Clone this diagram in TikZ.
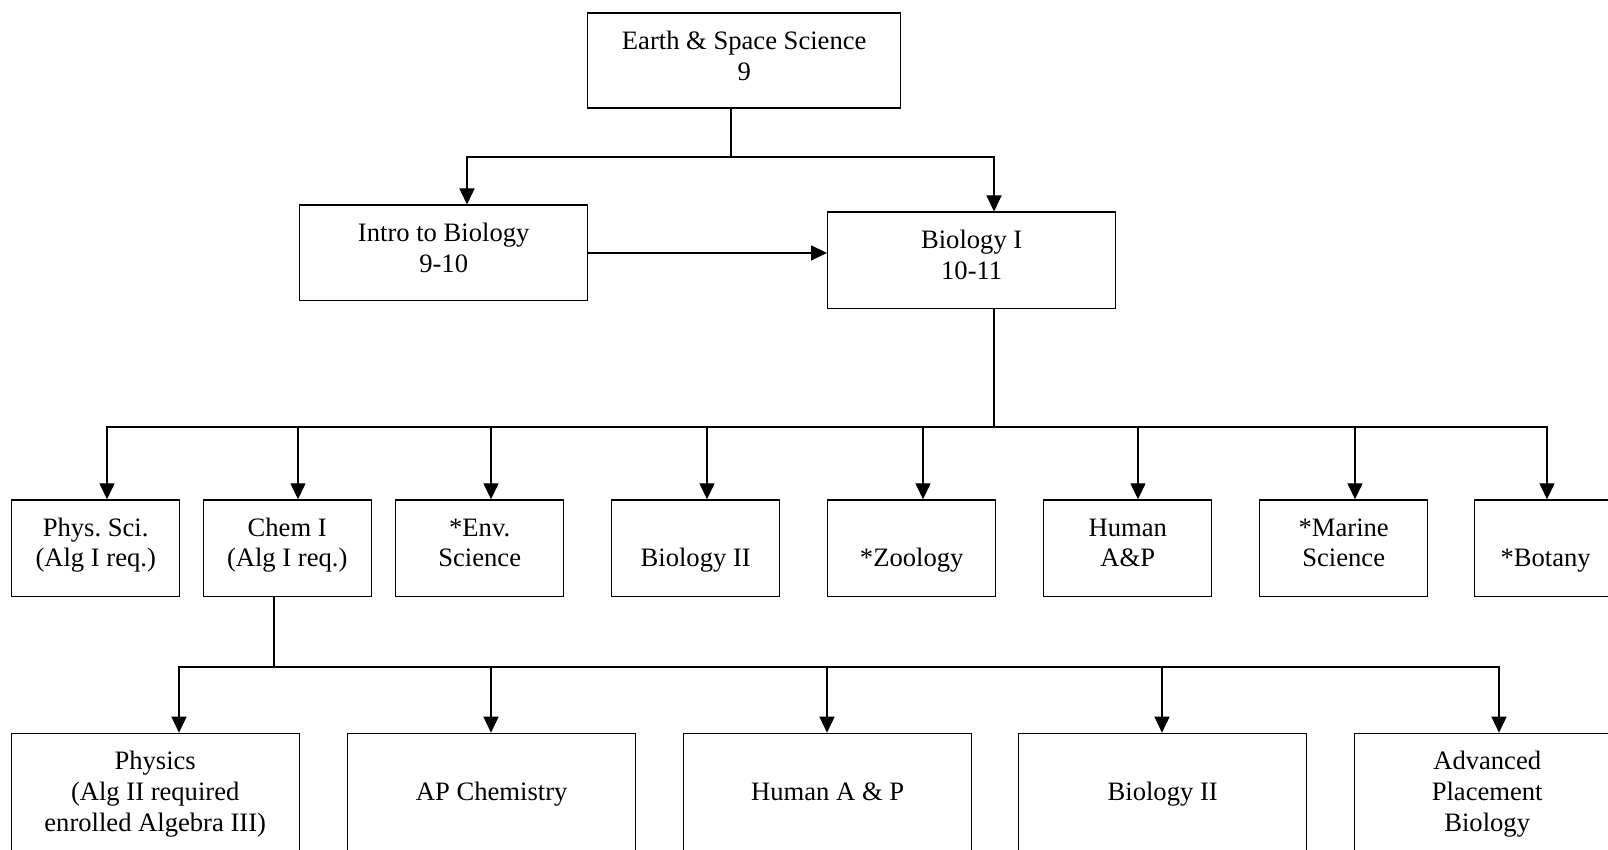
\documentclass[tikz,border=0pt]{standalone}
\usepackage{fontspec}
\setmainfont{Liberation Serif}
\usetikzlibrary{arrows.meta}
\begin{document}
\begin{tikzpicture}[x=0.5pt,y=-0.5pt,
  line width=0.7pt,
  box/.style={draw, line width=0.7pt, inner sep=0pt, align=flush center, anchor=north west,
    text height=18pt, font=\fontsize{13.3pt}{15.5pt}\selectfont\frenchspacing},
  midbox/.style={box, text width=84pt, text depth=30.25pt},
  midone/.style={midbox, text height=33.5pt, text depth=14.75pt},
  lowbox/.style={box, text width=144pt, text depth=46pt},
  lowone/.style={lowbox, text height=33.5pt, text depth=30.5pt},
  arr/.style={-{Triangle[length=8pt,width=7.5pt]}},
]
\useasboundingbox (0,0) rectangle (1608,850);
\clip (0,0) rectangle (1608,850);

% top levels
\node[box, text width=156.5pt, text depth=29.5pt] (earth) at (587,12.5) {Earth \& Space Science\\9};
\node[box, text width=144pt, text depth=29.75pt] (intro) at (299,204.5) {Intro to Biology\\9-10};
\node[box, text width=144pt, text depth=30.25pt] (bio1) at (827,211.5) {Biology I\\10-11};

% middle row
\node[midbox] (phys) at (11,499.3) {Phys. Sci.\\(Alg I req.)};
\node[midbox] (chem) at (202.5,499.3) {Chem I\\(Alg I req.)};
\node[midbox] (env) at (395,499.3) {*Env.\\Science};
\node[midone] (bio2a) at (611,499.3) {Biology II};
\node[midone] (zoo) at (827,499.3) {*Zoology};
\node[midbox] (hap) at (1043,499.3) {Human\\A\&P};
\node[midbox] (marine) at (1259,499.3) {*Marine\\Science};
\node[midone, text width=71pt] (botany) at (1474,499.3) {*Botany};

% bottom row
\node[lowbox] (physics) at (10.5,732.7) {Physics\\(Alg II required\\enrolled Algebra III)};
\node[lowone] (apchem) at (347,732.7) {AP Chemistry};
\node[lowone] (hap2) at (683,732.7) {Human A \& P};
\node[lowone] (bio2b) at (1018,732.7) {Biology II};
\node[lowbox, text width=132.5pt] (apbio) at (1354,732.7) {Advanced\\Placement\\Biology};

% connectors level 1
\coordinate (j0) at (731,157);
\coordinate (xI) at (467,157);
\coordinate (xB) at (994,157);
\draw (earth.south -| j0) -- (j0);
\draw[arr] (j0) -| (xI |- intro.north);
\draw[arr] (j0) -| (xB |- bio1.north);
\draw[arr] (intro.east) -- (intro.east -| bio1.west);

% connectors level 2
\coordinate (j1) at (994,427);
\draw (bio1.south -| j1) -- (j1);
\coordinate (m1) at (107,427);
\coordinate (m2) at (298,427);
\coordinate (m3) at (491,427);
\coordinate (m4) at (707,427);
\coordinate (m5) at (923,427);
\coordinate (m6) at (1138,427);
\coordinate (m7) at (1355,427);
\coordinate (m8) at (1547,427);
\draw[arr] (j1) -| (m1 |- phys.north);
\draw[arr] (j1) -| (m2 |- chem.north);
\draw[arr] (j1) -| (m3 |- env.north);
\draw[arr] (j1) -| (m4 |- bio2a.north);
\draw[arr] (j1) -| (m5 |- zoo.north);
\draw[arr] (j1) -| (m6 |- hap.north);
\draw[arr] (j1) -| (m7 |- marine.north);
\draw[arr] (j1) -| (m8 |- botany.north);

% connectors level 3
\coordinate (j2) at (274,667);
\draw (chem.south -| j2) -- (j2);
\coordinate (b1) at (179,667);
\coordinate (b2) at (491,667);
\coordinate (b3) at (827,667);
\coordinate (b4) at (1162,667);
\coordinate (b5) at (1499,667);
\draw[arr] (j2) -| (b1 |- physics.north);
\draw[arr] (j2) -| (b2 |- apchem.north);
\draw[arr] (j2) -| (b3 |- hap2.north);
\draw[arr] (j2) -| (b4 |- bio2b.north);
\draw[arr] (j2) -| (b5 |- apbio.north);
\end{tikzpicture}
\end{document}
